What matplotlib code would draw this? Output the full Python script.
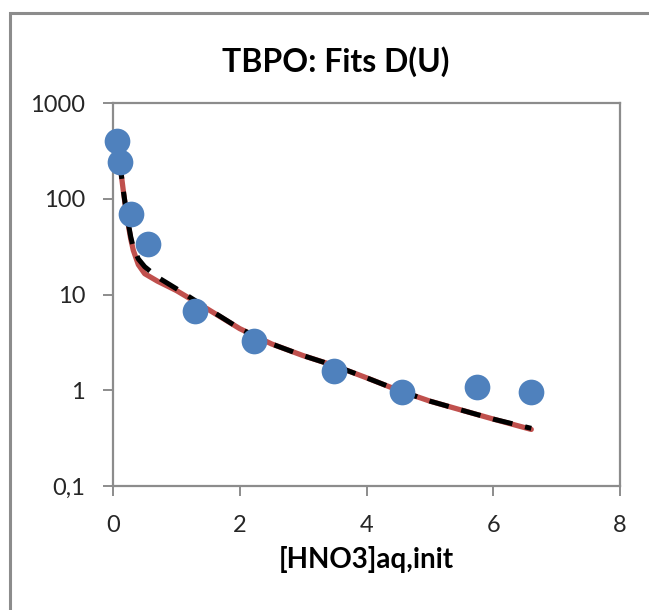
import matplotlib
matplotlib.use("Agg")
import matplotlib.pyplot as plt
from matplotlib.patches import Rectangle
from matplotlib.ticker import FixedLocator, NullLocator

# ---- data ----
x_data = [0.06, 0.11, 0.28, 0.55, 1.30, 2.23, 3.49, 4.56, 5.74, 6.60]
d_data = [400, 240, 70, 34, 6.8, 3.3, 1.58, 0.96, 1.08, 0.96]

x_fit = [0.1, 0.13, 0.16, 0.2, 0.24, 0.28, 0.32, 0.4, 0.5, 0.7, 1.0, 1.5,
         2.0, 2.5, 3.0, 3.5, 4.0, 4.5, 5.0, 5.5, 6.0, 6.6]
d_fit_red = [260, 180, 125, 80, 54, 38, 29, 20.5, 16.5, 13.8, 11, 7.0,
             4.4, 3.05, 2.3, 1.8, 1.35, 1.0, 0.77, 0.62, 0.5, 0.39]
d_fit_black = [260, 180, 125, 82, 56, 40, 31, 23.5, 19.5, 15.2, 11.5, 7.1,
               4.4, 3.05, 2.3, 1.8, 1.35, 1.0, 0.77, 0.62, 0.5, 0.40]

y_ticks = [0.1, 1, 10, 100, 1000]
y_tick_labels = ["0,1", "1", "10", "100", "1000"]
x_ticks = [0, 2, 4, 6, 8]

title = "TBPO: Fits D(U)"
xlabel = "[HNO3]aq,init"

plt.rcParams['font.family'] = ['Lato', 'DejaVu Sans']

W, H = 649, 610
fig = plt.figure(figsize=(W / 100, H / 100), dpi=100)
fig.patch.set_facecolor('white')

# chart-area border
fig.patches.append(Rectangle((10 / W, -0.1), 1.2, 1 - 13 / H + 0.1,
                             transform=fig.transFigure, fill=False,
                             edgecolor='#8c8c8c', linewidth=2.2))

ax = fig.add_axes([113 / W, 1 - 486 / H, (620 - 113) / W, (486 - 103) / H])
ax.set_yscale('log')
ax.set_xlim(0, 8)
ax.set_ylim(0.1, 1000)

ax.plot(x_fit, d_fit_red, color='#C0504D', lw=3.8, solid_capstyle='round', zorder=2)
ax.plot(x_fit, d_fit_black, color='black', lw=3.6, dashes=[4, 2.6], zorder=3)
ax.plot(x_data, d_data, 'o', color='#4F81BD', ms=18.5, mec='none', zorder=4,
        clip_on=False)

ax.yaxis.set_major_locator(FixedLocator(y_ticks))
ax.yaxis.set_minor_locator(NullLocator())
ax.set_yticklabels(y_tick_labels)
ax.set_xticks(x_ticks)
ax.set_xticklabels([str(v) for v in x_ticks])

for s in ax.spines.values():
    s.set_color('#8c8c8c')
    s.set_linewidth(1.6)
ax.tick_params(axis='both', which='major', direction='out', length=7,
               width=1.4, color='#8c8c8c', labelsize=17, labelcolor='#262626')
ax.tick_params(axis='y', pad=13)
ax.tick_params(axis='x', pad=14)

ax.set_xlabel(xlabel, fontsize=20, fontweight='bold', labelpad=7)
fig.text(336 / W, 1 - 62 / H, title, ha='center', va='center',
         fontsize=23, fontweight='bold')

fig.savefig('out.png', dpi=100)
